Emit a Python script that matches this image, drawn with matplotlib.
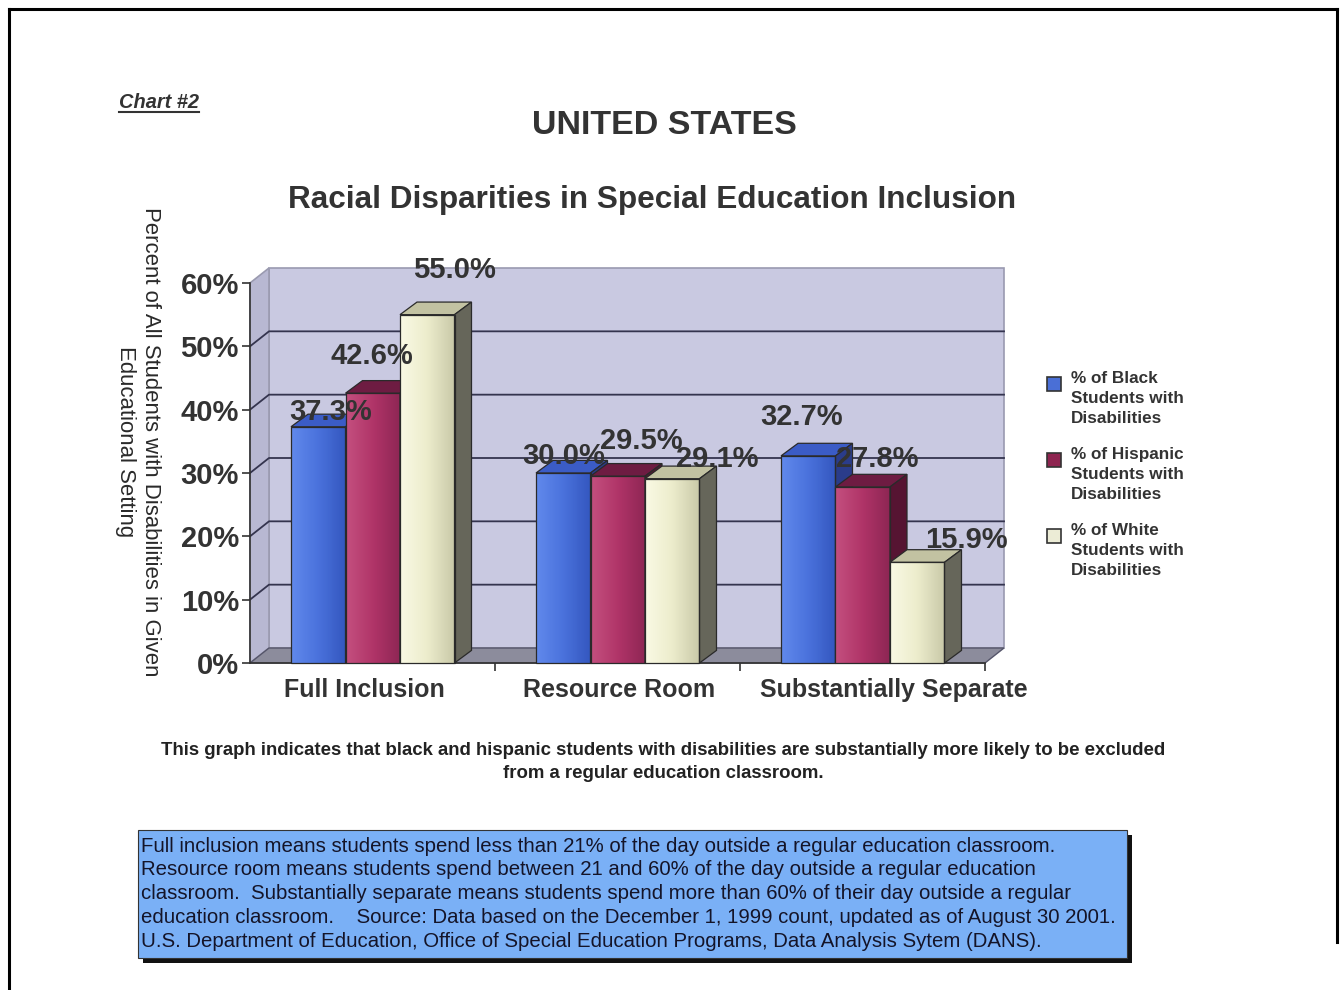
import numpy as np
import matplotlib
matplotlib.use("Agg")
import matplotlib.pyplot as plt
from matplotlib.patches import Rectangle, Polygon
from matplotlib.lines import Line2D
from matplotlib.colors import LinearSegmentedColormap

plt.rcParams['font.family'] = ['Liberation Sans', 'DejaVu Sans']

# data
categories = ["Full Inclusion", "Resource Room", "Substantially Separate"]
series = ["% of Black\nStudents with\nDisabilities",
          "% of Hispanic\nStudents with\nDisabilities",
          "% of White\nStudents with\nDisabilities"]
black = [37.3, 30.0, 32.7]
hispanic = [42.6, 29.5, 27.8]
white = [55.0, 29.1, 15.9]
yticks = [0, 10, 20, 30, 40, 50, 60]

caption = ("This graph indicates that black and hispanic students with disabilities are substantially more likely to be excluded\n"
           "from a regular education classroom.")
note_lines = [
    "Full inclusion means students spend less than 21% of the day outside a regular education classroom.",
    "Resource room means students spend between 21 and 60% of the day outside a regular education",
    "classroom.  Substantially separate means students spend more than 60% of their day outside a regular",
    "education classroom.    Source: Data based on the December 1, 1999 count, updated as of August 30 2001.",
    "U.S. Department of Education, Office of Special Education Programs, Data Analysis Sytem (DANS).",
]

# colours: front gradient, top, side
front_cols = [["#6189ec", "#4a72dc", "#3457bf"],
              ["#c4507f", "#b03468", "#8e2654"],
              ["#fafae4", "#ececcc", "#c9c9a8"]]
top_cols = ["#3b5cc6", "#6e1c42", "#c2c2a2"]
side_cols = ["#2a3c8a", "#561432", "#66665a"]
legend_cols = ["#4a6fd6", "#8e2450", "#ececd6"]

# layout in pixels
W, H = 1341, 990
AX_L, AX_R, AX_B, AX_T = 250, 985, 663, 283
WALL_PX = (19, 15)
BAR_PX = (17, 12.6)
BAR_W_PX = 54.5
GROUP_OFF_PX = 41
# label nudges (px) relative to the top centre of each bar front
nudges = [[(12, 15), (-1, 37), (27, 45)],
          [(0, 17), (24, 35), (45, 20)],
          [(-7, 39), (15, 28), (49, 22)]]
cat_nudge = [-8, 2, 31]

fig = plt.figure(figsize=(W / 100, H / 100), dpi=100)
fig.patch.set_facecolor("white")

ax = fig.add_axes([AX_L / W, 1 - AX_B / H, (AX_R - AX_L) / W, (AX_B - AX_T) / H])
ax.set_xlim(0, 3)
ax.set_ylim(0, 60)
ax.patch.set_visible(False)

sx = 3 / (AX_R - AX_L)
sy = 60 / (AX_B - AX_T)
wdx, wdy = WALL_PX[0] * sx, WALL_PX[1] * sy
bdx, bdy = BAR_PX[0] * sx, BAR_PX[1] * sy

# walls and floor
grid_c = "#34344e"
ax.add_patch(Rectangle((wdx, wdy), 3, 60, facecolor="#c9c9e1", edgecolor="#9a9ab0",
                       lw=1.2, zorder=0, clip_on=False))
ax.add_patch(Polygon([(0, 0), (wdx, wdy), (wdx, 60 + wdy), (0, 60)], closed=True,
                     facecolor="#b8b8d2", edgecolor="#9a9ab0", lw=1.2, zorder=0.5, clip_on=False))
ax.add_patch(Polygon([(0, 0), (3, 0), (3 + wdx, wdy), (wdx, wdy)], closed=True,
                     facecolor="#8c8c9c", edgecolor="#55556a", lw=1, zorder=0.5, clip_on=False))
for v in yticks[1:-1]:
    ax.add_line(Line2D([0, wdx, 3 + wdx], [v, v + wdy, v + wdy], color=grid_c,
                       lw=1.3, zorder=0.8, clip_on=False))

# bars
values = [black, hispanic, white]
bw = BAR_W_PX * sx
x0 = np.arange(len(categories)) + GROUP_OFF_PX * sx
for j, vals in enumerate(values):
    z = 3 + j
    cmap = LinearSegmentedColormap.from_list("f%d" % j, front_cols[j])
    bars = ax.bar(x0 + j * bw, vals, bw, align="edge", color=front_cols[j][1],
                  edgecolor="none", zorder=z)
    for i, rect in enumerate(bars):
        x, w, h = rect.get_x(), rect.get_width(), rect.get_height()
        grad = np.linspace(0, 1, 64).reshape(1, -1)
        im = ax.imshow(grad, cmap=cmap, aspect="auto", extent=(x, x + w, 0, h),
                       zorder=z + 0.1, interpolation="bilinear")
        im.set_clip_path(rect)
        ax.add_patch(Polygon([(x, h), (x + w, h), (x + w + bdx, h + bdy), (x + bdx, h + bdy)],
                             closed=True, facecolor=top_cols[j], edgecolor="#2a2a2a",
                             lw=0.9, zorder=z + 0.2, clip_on=False))
        ax.add_patch(Polygon([(x + w, 0), (x + w + bdx, bdy), (x + w + bdx, h + bdy), (x + w, h)],
                             closed=True, facecolor=side_cols[j], edgecolor="#2a2a2a",
                             lw=0.9, zorder=z + 0.2, clip_on=False))
        ax.add_patch(Rectangle((x, 0), w, h, fill=False, edgecolor="#2a2a2a", lw=0.9,
                               zorder=z + 0.3, clip_on=False))
        ndx, ndy = nudges[i][j]
        ax.annotate("%.1f%%" % vals[i], (x + w / 2, h), xytext=(ndx, ndy),
                    textcoords="offset pixels", ha="center", va="center",
                    fontsize=21, fontweight="bold", color="#333333", zorder=10,
                    annotation_clip=False)

ax.set_xlim(0, 3)
ax.set_ylim(0, 60)

# axes
for s in ["top", "right"]:
    ax.spines[s].set_visible(False)
for s in ["left", "bottom"]:
    ax.spines[s].set_color("#333333")
    ax.spines[s].set_linewidth(1.2)
    ax.spines[s].set_zorder(1)
ax.set_yticks(yticks)
ax.set_yticklabels(["%d%%" % v for v in yticks], fontsize=21, fontweight="bold", color="#333333")
ax.set_xticks([1, 2, 3])
ax.set_xticklabels([])
ax.tick_params(axis="both", direction="out", length=6, width=1.2, color="#333333", pad=2)
for i, c in enumerate(categories):
    ax.annotate(c, (i + 0.5, 0), xytext=(cat_nudge[i], -27), textcoords="offset pixels",
                ha="center", va="center", fontsize=18, fontweight="bold", color="#333333",
                annotation_clip=False)

# titles
fig.text(119 / W, 1 - 103 / H, "Chart #2", fontsize=14.4, fontweight="bold", style="italic",
         color="#333333", ha="left", va="center")
fig.add_artist(Line2D([119 / W, 199 / W], [1 - 112 / H, 1 - 112 / H], color="#333333", lw=1.5))
fig.text(664 / W, 1 - 126 / H, "UNITED STATES", fontsize=24.5, fontweight="bold",
         color="#333333", ha="center", va="center")
fig.text(652 / W, 1 - 200 / H, "Racial Disparities in Special Education Inclusion", fontsize=22.7,
         fontweight="bold", color="#333333", ha="center", va="center")
fig.text(138 / W, 1 - 442 / H,
         "Percent of All Students with Disabilities in Given\nEducational Setting",
         fontsize=15.9, color="#2a2a2a", rotation=270, ha="center", va="center",
         multialignment="center", linespacing=1.24)

# legend
for k, lab in enumerate(series):
    top = 377 + 76 * k
    fig.add_artist(Rectangle((1047 / W, 1 - (top + 14) / H), 14 / W, 14 / H,
                             facecolor=legend_cols[k], edgecolor="#333333", lw=1.2,
                             transform=fig.transFigure))
    fig.text(1071 / W, 1 - (top - 6) / H, lab, fontsize=12.3, fontweight="bold",
             color="#333333", ha="left", va="top", linespacing=1.43)

# caption
fig.text(663 / W, 1 - 762 / H, caption, fontsize=13.4, fontweight="bold", color="#222222",
         ha="center", va="center", linespacing=1.5)

# note box
fig.add_artist(Rectangle((143 / W, 1 - 963 / H), 989 / W, 128 / H, facecolor="#111111",
                         edgecolor="none", transform=fig.transFigure))
fig.add_artist(Rectangle((138 / W, 1 - 958 / H), 989 / W, 128 / H, facecolor="#7ab0f6",
                         edgecolor="#333333", lw=0.8, transform=fig.transFigure))
for k, line in enumerate(note_lines):
    fig.text(141 / W, 1 - (846 + 23.8 * k) / H, line, fontsize=14.7,
             color="#141428", ha="left", va="center")

# page frame
for xs, ys in [([9, 9], [9, 990]), ([9, 1337], [9, 9]), ([1337, 1337], [9, 942])]:
    fig.add_artist(Line2D([x / W for x in xs], [1 - y / H for y in ys], color="black", lw=2.2))

fig.savefig("out.png", dpi=100)
